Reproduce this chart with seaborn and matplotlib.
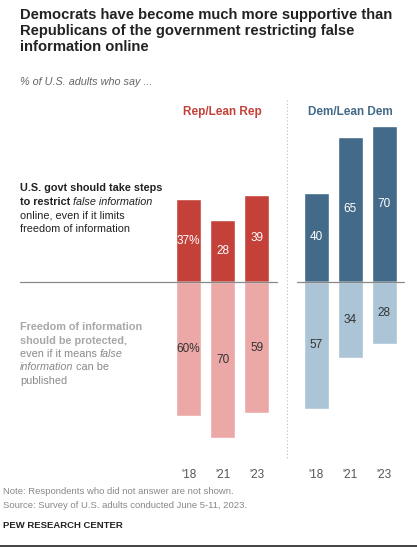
import matplotlib
matplotlib.use("Agg")
import matplotlib.pyplot as plt
import seaborn as sns
import pandas as pd
from matplotlib.lines import Line2D

# data
years = ["'18", "'21", "'23"]
rep_restrict = [37, 28, 39]
rep_protect = [60, 70, 59]
dem_restrict = [40, 65, 70]
dem_protect = [57, 34, 28]
rep_pos = [0, 1, 2]
dem_pos = [3.75, 4.75, 5.75]

REP_DARK, REP_LIGHT = "#c4413a", "#eca8a6"
DEM_DARK, DEM_LIGHT = "#436a88", "#abc4d6"

sns.set_theme(style="white")
plt.rcParams['font.family'] = ['Liberation Sans', 'DejaVu Sans']

W, H = 417, 548
fig = plt.figure(figsize=(W / 100, H / 100), dpi=100)
ax = fig.add_axes([170 / W, 1 - 465 / H, 240 / W, 365 / H])


def fy(px):
    return 1 - px / H


series = [
    (rep_pos, rep_restrict, 1, REP_DARK, "white"),
    (rep_pos, rep_protect, -1, REP_LIGHT, "#333333"),
    (dem_pos, dem_restrict, 1, DEM_DARK, "white"),
    (dem_pos, dem_protect, -1, DEM_LIGHT, "#333333"),
]
for i, (pos, vals, sign, col, tcol) in enumerate(series):
    df = pd.DataFrame({"x": pos, "y": [sign * v for v in vals]})
    sns.barplot(data=df, x="x", y="y", native_scale=True, color=col,
                width=0.74, saturation=1, ax=ax, errorbar=None)
    for j, (p, v) in enumerate(zip(pos, vals)):
        lab = f"{v}%" if (i in (0, 1) and j == 0) else str(v)
        ax.text(p, sign * v / 2, lab, ha="center", va="center",
                color=tcol, fontsize=8.5)

ax.set_xlim(-0.544, 6.51)
ax.set_ylim(-82.1, 81.6)
ax.set_xticks(rep_pos + dem_pos)
ax.set_xticklabels(years * 2, color="#555555", fontsize=8.5)
ax.tick_params(axis="x", length=0, pad=3)
ax.set_yticks([])
ax.set_xlabel("")
ax.set_ylabel("")
for s in ax.spines.values():
    s.set_visible(False)

# group headers
ax.text(1, 76, "Rep/Lean Rep", ha="center", va="center", color=REP_DARK,
        fontsize=8.5, fontweight="bold")
ax.text(4.75, 76, "Dem/Lean Dem", ha="center", va="center", color=DEM_DARK,
        fontsize=8.5, fontweight="bold")

# zero lines and separator
fig.add_artist(Line2D([20 / W, 277 / W], [fy(282)] * 2, color="#888888", lw=0.9))
fig.add_artist(Line2D([297 / W, 404 / W], [fy(282)] * 2, color="#888888", lw=0.9))
fig.add_artist(Line2D([287 / W] * 2, [fy(100), fy(460)], color="#bbbbbb",
                      lw=0.8, ls=(0, (1, 2))))

# title
fig.text(20 / W, fy(8), "Democrats have become much more supportive than\n"
         "Republicans of the government restricting false\ninformation online",
         ha="left", va="top", fontsize=10.6, fontweight="bold",
         color="#222222", linespacing=1.2)
fig.text(20 / W, fy(82), "% of U.S. adults who say ...", ha="left", va="center",
         fontsize=7.8, style="italic", color="#666666")


def rich_line(x, y, parts, color, size=7.8):
    # draw text segments one after another on a line
    renderer = fig.canvas.get_renderer()
    xp = x
    for txt, weight, style in parts:
        t = fig.text(xp / W, fy(y), txt, ha="left", va="center", fontsize=size,
                     fontweight=weight, style=style, color=color)
        bb = t.get_window_extent(renderer)
        xp += bb.width


DARK = "#222222"
GREY = "#8a8a8a"
rich_line(20, 188, [("U.S. govt should take steps", "bold", "normal")], DARK)
rich_line(20, 202, [("to restrict ", "bold", "normal"),
                    ("false information", "normal", "italic")], DARK)
rich_line(20, 216, [("online, even if it limits", "normal", "normal")], DARK)
rich_line(20, 229, [("freedom of information", "normal", "normal")], DARK)

rich_line(20, 327, [("Freedom of information", "bold", "normal")], "#a8a8a8")
rich_line(20, 341, [("should be protected,", "bold", "normal")], "#a8a8a8")
rich_line(20, 354, [("even if it means ", "normal", "normal"),
                    ("false", "normal", "italic")], GREY)
rich_line(20, 367, [("information", "normal", "italic"),
                    (" can be", "normal", "normal")], GREY)
rich_line(20, 381, [("published", "normal", "normal")], GREY)

# footer
fig.text(3 / W, fy(492), "Note: Respondents who did not answer are not shown.",
         fontsize=6.8, color="#888888", va="center")
fig.text(3 / W, fy(505), "Source: Survey of U.S. adults conducted June 5-11, 2023.",
         fontsize=6.8, color="#888888", va="center")
fig.text(3 / W, fy(525), "PEW RESEARCH CENTER", fontsize=6.8, fontweight="bold",
         color="#222222", va="center")
fig.add_artist(Line2D([0, 1], [fy(546)] * 2, color="#222222", lw=1.2))

fig.savefig("out.png", dpi=100)
